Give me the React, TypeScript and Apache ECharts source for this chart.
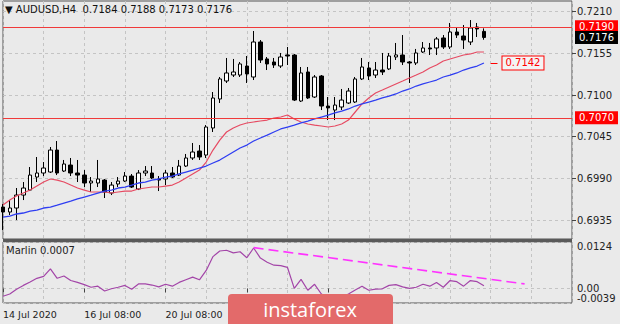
import { useEffect, useRef } from "react";
import * as echarts from "echarts";

// ---- data ----
const categories: string[] = Array.from({ length: 85 }, (_, i) => String(i));
// labels every 12 bars; the two under the watermark are not visible in the reference
const xTickLabels = ["14 Jul 2020", "16 Jul 08:00", "20 Jul 08:00", "", "", "28 Jul 08:00"];
const priceTicks = [0.6935, 0.699, 0.7045, 0.71, 0.7155, 0.721];
const marlinTicks = [-0.0039, 0, 0.0124];
const levelLines = [0.719, 0.707];

const opens = [
  0.69522, 0.69456, 0.69509, 0.6968, 0.69746, 0.69918, 0.69971, 0.69984, 0.70274, 0.69997,
  0.70076, 0.69971, 0.69944, 0.69839, 0.69839, 0.69878, 0.69707, 0.69826, 0.69865, 0.69931,
  0.6976, 0.69971, 0.69971, 0.69892, 0.69892, 0.69971, 0.69944, 0.70063, 0.70169, 0.70261,
  0.70208, 0.70565, 0.70948, 0.71185, 0.71264, 0.71264, 0.71383, 0.71238, 0.717, 0.71476,
  0.71436, 0.71383, 0.71529, 0.71528, 0.70921, 0.71304, 0.70974, 0.71251, 0.70855, 0.70802,
  0.70842, 0.70895, 0.70908, 0.71212, 0.71357, 0.71264, 0.7133, 0.71344, 0.71502, 0.71528,
  0.71436, 0.71423, 0.71568, 0.71621, 0.71621, 0.71753, 0.71634, 0.71832, 0.71779, 0.717,
  0.71898, 0.7184,
];
const highs = [
  0.69562, 0.69614, 0.69773, 0.69852, 0.7005, 0.70182, 0.70116, 0.70314, 0.70393, 0.70143,
  0.70169, 0.70143, 0.7001, 0.69918, 0.70143, 0.69892, 0.69852, 0.69918, 0.69984, 0.69958,
  0.7001, 0.70063, 0.70063, 0.69931, 0.7001, 0.7005, 0.70143, 0.70222, 0.70367, 0.7034,
  0.70604, 0.7104, 0.71238, 0.71489, 0.71476, 0.71436, 0.71515, 0.71845, 0.71726, 0.71502,
  0.71489, 0.71555, 0.71634, 0.71542, 0.7137, 0.7137, 0.71264, 0.71264, 0.70974, 0.70974,
  0.7108, 0.71093, 0.71238, 0.71489, 0.71436, 0.71436, 0.71555, 0.71555, 0.71687, 0.71792,
  0.71449, 0.71608, 0.717, 0.71687, 0.71766, 0.71792, 0.71951, 0.71885, 0.71924, 0.7199,
  0.71951, 0.7188,
];
const lows = [
  0.69218, 0.69416, 0.6935, 0.69614, 0.69733, 0.69852, 0.69931, 0.69971, 0.69944, 0.69984,
  0.69931, 0.69852, 0.69786, 0.6972, 0.69786, 0.69641, 0.6968, 0.69786, 0.69852, 0.69773,
  0.69746, 0.69931, 0.69892, 0.69733, 0.69812, 0.69905, 0.69931, 0.7005, 0.70143, 0.70143,
  0.70169, 0.70512, 0.70895, 0.71159, 0.71238, 0.71238, 0.71159, 0.71198, 0.71423, 0.7133,
  0.71357, 0.71357, 0.71396, 0.70921, 0.70908, 0.70948, 0.70961, 0.70802, 0.7067, 0.7067,
  0.70802, 0.70882, 0.70895, 0.71198, 0.71198, 0.71225, 0.71264, 0.7133, 0.71462, 0.71396,
  0.71159, 0.71396, 0.71555, 0.71528, 0.71528, 0.71608, 0.71608, 0.71753, 0.71608, 0.7166,
  0.71766, 0.7173,
];
const closes = [
  0.69456, 0.69509, 0.6968, 0.69773, 0.69944, 0.69971, 0.70037, 0.70274, 0.69971, 0.7009,
  0.69971, 0.69944, 0.69839, 0.69865, 0.69892, 0.6972, 0.69812, 0.69865, 0.69931, 0.69786,
  0.69971, 0.69997, 0.69905, 0.69878, 0.69971, 0.69918, 0.70063, 0.70169, 0.70248, 0.70182,
  0.70578, 0.70961, 0.71212, 0.71291, 0.71304, 0.7141, 0.71278, 0.717, 0.71462, 0.7141,
  0.71396, 0.71502, 0.71515, 0.70934, 0.71291, 0.70961, 0.71238, 0.70855, 0.70829, 0.70868,
  0.70934, 0.71053, 0.71212, 0.7137, 0.71251, 0.7133, 0.71304, 0.71515, 0.71529, 0.71436,
  0.71423, 0.71555, 0.71621, 0.71608, 0.7174, 0.71634, 0.71832, 0.71792, 0.71726, 0.71885,
  0.71872, 0.7176,
];
const maFast = [
  0.69548, 0.69614, 0.69667, 0.69707, 0.69746, 0.69799, 0.69852, 0.69892, 0.69878, 0.69852,
  0.69812, 0.69773, 0.69746, 0.6972, 0.6972, 0.6972, 0.69707, 0.6972, 0.69733, 0.69733,
  0.6976, 0.69773, 0.69786, 0.69786, 0.69799, 0.69812, 0.69852, 0.69905, 0.69958, 0.7001,
  0.70116, 0.70274, 0.70406, 0.70512, 0.70565, 0.70604, 0.70631, 0.70644, 0.70657, 0.7067,
  0.70697, 0.7071, 0.70736, 0.70684, 0.70644, 0.70618, 0.70604, 0.70591, 0.70578, 0.70591,
  0.70618, 0.7067, 0.70776, 0.70882, 0.70961, 0.71027, 0.71066, 0.71106, 0.71146, 0.71185,
  0.71225, 0.71264, 0.71304, 0.71357, 0.71396, 0.71449, 0.71476, 0.71502, 0.71528, 0.71542,
  0.71568, 0.71568,
];
const maSlow = [
  0.6939, 0.69403, 0.6943, 0.69443, 0.69469, 0.69482, 0.69509, 0.69522, 0.69548, 0.69575,
  0.69601, 0.69628, 0.69654, 0.6968, 0.69707, 0.69733, 0.69746, 0.69773, 0.69786, 0.69812,
  0.69839, 0.69852, 0.69878, 0.69892, 0.69918, 0.69931, 0.69958, 0.69984, 0.7001, 0.70037,
  0.70063, 0.70103, 0.70142, 0.70195, 0.70248, 0.70301, 0.7034, 0.70393, 0.70433, 0.70472,
  0.70512, 0.70552, 0.70578, 0.70604, 0.70631, 0.70657, 0.70684, 0.7071, 0.70736, 0.70763,
  0.70789, 0.70816, 0.70855, 0.70882, 0.70908, 0.70934, 0.70961, 0.70987, 0.71014, 0.71053,
  0.7108, 0.71119, 0.71146, 0.71172, 0.71198, 0.71238, 0.71264, 0.71291, 0.7133, 0.71357,
  0.71383, 0.71423,
];
const marlin = [
  -0.0021, -0.0015, -0.0002, 0.0008, 0.0017, 0.0027, 0.0032, 0.0052, 0.0027, 0.0033,
  0.0021, 0.0016, 0.001, 0.0003, 0.0006, -0.0007, -0.0001, 0.0003, 0.0008, -0.0002,
  0.0012, 0.0012, 0.0009, 0.0004, 0.0011, 0.0006, 0.0016, 0.0023, 0.003, 0.0023,
  0.0048, 0.0085, 0.01, 0.0102, 0.0095, 0.0098, 0.0082, 0.0108, 0.0081, 0.007,
  0.0062, 0.0061, 0.0056, 0.0, 0.0024, -0.0005, 0.0011, -0.0015, -0.0026, -0.0028,
  -0.0023, -0.0015, -0.0004, 0.0006, -0.0005, -0.0002, -0.0001, 0.0008, 0.001, 0.0004,
  0.0, 0.0003, 0.0011, 0.0006, 0.0016, 0.0003, 0.0021, 0.0018, 0.0006, 0.0021,
  0.0018, 0.0007,
];
const marlinTrend = [
  [37, 0.0109],
  [77, 0.0012],
];

const FONT = "DejaVu Sans";

export default function App() {
  const ref = useRef<HTMLDivElement>(null);
  useEffect(() => {
    if (!ref.current) return;
    const chart = echarts.init(ref.current, null, { renderer: "svg" });
    const last = opens.length - 1;
    const candles = opens.map((o, i) => [o, closes[i], lows[i], highs[i]]);
    const labelInterval = (i: number) => i % 12 === 0 && i / 12 < xTickLabels.length;
    const gridInterval = (i: number) => i % 6 === 0;
    const dashed = { color: "#c4c4c4", type: [3, 3], width: 1 };
    const priceBox = (bg: string) => ({
      show: true,
      position: "end",
      distance: 3,
      color: "#fff",
      backgroundColor: bg,
      padding: [2, 4, 1, 4],
      fontSize: 10,
      fontFamily: FONT,
      formatter: (p: any) => Number(p.value).toFixed(4),
    });
    const option: any = {
      animation: false,
      backgroundColor: "#eaeaea",
      textStyle: { fontFamily: FONT },
      grid: [
        { left: 3, right: 48, top: 1, height: 238, show: true, borderColor: "#555", borderWidth: 1, backgroundColor: "transparent" },
        { left: 3, right: 48, top: 242, height: 61, show: true, borderColor: "#555", borderWidth: 1, backgroundColor: "transparent" },
      ],
      xAxis: [
        {
          type: "category", gridIndex: 0, data: categories, boundaryGap: false,
          axisLine: { show: false }, axisTick: { show: false }, axisLabel: { show: false },
          splitLine: { show: true, interval: gridInterval, lineStyle: dashed },
        },
        {
          type: "category", gridIndex: 1, data: categories, boundaryGap: false,
          axisLine: { show: false },
          axisTick: { show: true, interval: labelInterval, length: 4, lineStyle: { color: "#444" } },
          axisLabel: {
            interval: labelInterval, showMaxLabel: false, align: "left", margin: 6,
            color: "#222", fontSize: 9.5, fontFamily: FONT,
            formatter: (_v: string, i: number) => xTickLabels[i / 12] ?? "",
          },
          splitLine: { show: true, interval: gridInterval, lineStyle: dashed },
        },
      ],
      yAxis: [
        {
          type: "value", gridIndex: 0, position: "right", min: 0.691, max: 0.72241, scale: true,
          axisLine: { show: false },
          axisTick: { show: true, length: 4, customValues: priceTicks, lineStyle: { color: "#444" } },
          axisLabel: { customValues: priceTicks, formatter: (v: number) => v.toFixed(4), margin: 5, color: "#222", fontSize: 10, fontFamily: FONT },
          splitLine: { show: true, lineStyle: dashed },
        },
        {
          type: "value", gridIndex: 1, position: "right", min: -0.0039, max: 0.0124,
          axisLine: { show: false },
          axisTick: { show: false, customValues: marlinTicks },
          axisLabel: {
            customValues: marlinTicks, margin: 5, color: "#222", fontSize: 10, fontFamily: FONT,
            lineHeight: 9, hideOverlap: false, showMinLabel: true, showMaxLabel: true,
            formatter: (v: number) => (v === 0 ? "0.00" : v.toFixed(4)),
            verticalAlignMinLabel: "bottom", verticalAlignMaxLabel: "top",
          },
          splitLine: { show: true, lineStyle: dashed },
        },
      ],
      series: [
        {
          type: "candlestick", xAxisIndex: 0, yAxisIndex: 0, data: candles, barWidth: 4,
          itemStyle: { color: "#ffffff", color0: "#000000", borderColor: "#000000", borderColor0: "#000000", borderWidth: 1 },
          z: 2,
        },
        {
          type: "line", xAxisIndex: 0, yAxisIndex: 0, data: maFast, symbol: "none", clip: false,
          lineStyle: { color: "#e64a62", width: 1.2 }, z: 3,
          markLine: {
            symbol: "none", silent: true, animation: false, precision: 5,
            data: levelLines.map((v) => ({ yAxis: v, lineStyle: { color: "#f03a3a", width: 1.2, type: "solid" }, label: priceBox("#ff0000") })),
          },
        },
        {
          type: "line", xAxisIndex: 0, yAxisIndex: 0, data: [], symbol: "none", clip: false, z: 5,
          markLine: {
            symbol: "none", silent: true, animation: false, precision: 5,
            data: [{ yAxis: closes[last], lineStyle: { color: "rgba(0,0,0,0)", width: 1, type: "solid" }, label: priceBox("#000000") }],
          },
        },
        {
          type: "line", xAxisIndex: 0, yAxisIndex: 0, data: maSlow, symbol: "none", clip: false,
          lineStyle: { color: "#2f3ef2", width: 1.3 }, z: 3,
          markLine: {
            symbol: "none", silent: true, animation: false, precision: 5,
            lineStyle: { color: "#ff0000", width: 1, type: "solid" },
            label: {
              show: true, position: "end", distance: 5, color: "#ff0000", backgroundColor: "#f4f4f4",
              borderColor: "#ff0000", borderWidth: 1, padding: [2, 3, 1, 3], fontSize: 10, fontFamily: FONT,
              formatter: () => maSlow[last].toFixed(4),
            },
            data: [[{ coord: [last + 1, maSlow[last]] }, { coord: [last + 2, maSlow[last]] }]],
          },
        },
        {
          type: "line", xAxisIndex: 1, yAxisIndex: 1, data: marlin, symbol: "none",
          lineStyle: { color: "#a345a8", width: 1.2 }, z: 3,
        },
        {
          type: "line", xAxisIndex: 1, yAxisIndex: 1, data: marlinTrend, symbol: "none",
          lineStyle: { color: "#ff33ff", width: 1.6, type: [10, 5] }, z: 4,
        },
      ],
      graphic: [
        {
          type: "text", left: 5, top: 4, z: 10,
          style: {
            text: `▼ AUDUSD,H4  ${opens[last].toFixed(4)} ${highs[last].toFixed(4)} ${lows[last].toFixed(4)} ${closes[last].toFixed(4)}`,
            fill: "#111", font: `10px "${FONT}"`,
          },
        },
        {
          type: "text", left: 6, top: 245, z: 10,
          style: { text: `Marlin ${marlin[last].toFixed(4)}`, fill: "#222", font: `10px "${FONT}"` },
        },
        { type: "rect", z: 10, shape: { x: 3, y: 239, width: 569, height: 3 }, style: { fill: "#5a5a5a" } },
        { type: "rect", z: 100, shape: { x: 228, y: 294, width: 165, height: 32, r: [4, 4, 0, 0] }, style: { fill: "#e36a6a" } },
        {
          type: "text", z: 101, x: 310, y: 309,
          style: { text: "instaforex", fill: "#ffffff", font: `20px "Open Sans"`, align: "center", verticalAlign: "middle", textAlign: "center", textVerticalAlign: "middle" },
        },
      ],
    };
    chart.setOption(option);
    return () => chart.dispose();
  }, []);
  return <div ref={ref} style={{ position: "fixed", left: 0, top: 0, width: 620, height: 324 }} />;
}
